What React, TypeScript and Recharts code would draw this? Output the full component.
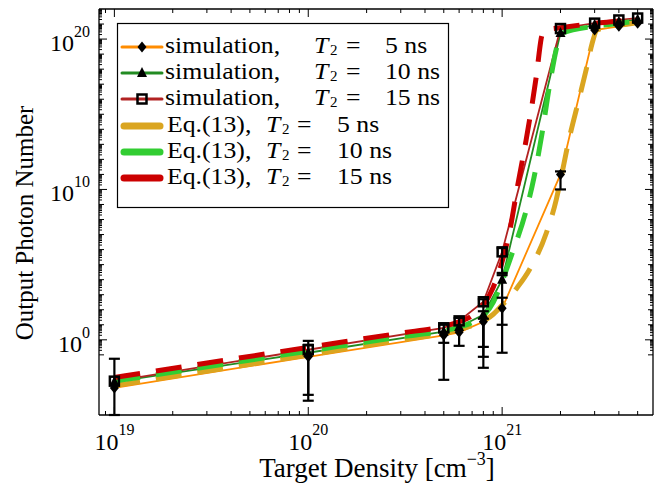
import React from 'react';
import { LineChart, Line, XAxis, YAxis, ErrorBar } from 'recharts';

const FONT = '"Liberation Serif", "DejaVu Serif", serif';

// ---- simulation data (x: target density, value: log10 of photon number) ----
const simDensity = [1e19, 1e20, 5e20, 6e20, 8e20, 1e21, 2e21, 3e21, 4e21, 5e21];
const sim5Exp = [-3.2, -1.13, 0.3, 0.5, 1.2, 2.1, 11.0, 20.6, 20.85, 21.05];
const sim10Exp = [-2.8, -0.86, 0.55, 0.85, 1.66, 4.0, 20.4, 20.95, 21.15, 21.3];
const sim15Exp = [-2.75, -0.66, 0.8, 1.26, 2.53, 5.85, 20.7, 21.06, 21.27, 21.4];
// error bar bounds as log10 [low, high]
const sim5ErrExp: (number[] | null)[] = [null, null, [-2.66, 0.5], null, [-1.86, 1.4], [-0.86, 2.8], [10.0, 11.2], null, null, null];
const sim10ErrExp: (number[] | null)[] = [null, [-3.66, -0.33], null, null, [-1.13, 1.9], [1.0, 4.3], null, null, null, null];
const sim15ErrExp: (number[] | null)[] = [[-5, -1.26], [-4.05, -0.07], [-0.2, 1.0], [-0.4, 1.45], [-0.47, 2.7], [4.45, 6.1], null, null, null, null];

// ---- Eq.(13) curves ----
const eq5Density = [1e19, 1e20, 3e20, 5e20, 6e20, 7e20, 8e20, 9e20, 1e21, 1.2e21, 1.38e21, 1.69e21, 1.9e21, 1.97e21, 2.21e21, 2.49e21, 2.74e21, 2.91e21, 3.09e21, 4e21, 5e21];
const eq5Exp = [-3.05, -1.0, 0.0, 0.45, 0.7, 0.95, 1.25, 1.7, 2.3, 3.5, 4.65, 7.1, 9.3, 10.2, 13.3, 16.0, 18.2, 19.7, 20.6, 20.9, 21.1];
const eq10Density = [1e19, 1e20, 3e20, 5e20, 6e20, 7e20, 8e20, 9e20, 1e21, 1.13e21, 1.33e21, 1.46e21, 1.61e21, 1.75e21, 1.9e21, 1.97e21, 2.05e21, 3e21, 4e21, 5e21];
const eq10Exp = [-2.75, -0.75, 0.2, 0.6, 0.85, 1.15, 1.6, 2.5, 3.9, 5.8, 8.6, 10.8, 13.8, 16.8, 19.3, 20.1, 20.4, 20.85, 21.05, 21.2];
const eq15Density = [1e19, 1e20, 3e20, 5e20, 6e20, 7e20, 8e20, 9e20, 1e21, 1.1e21, 1.2e21, 1.33e21, 1.5e21, 1.6e21, 1.66e21, 2e21, 3e21, 4e21, 5e21];
const eq15Exp = [-2.5, -0.5, 0.45, 0.9, 1.2, 1.6, 2.3, 3.5, 5.2, 7.4, 10.2, 13.3, 17.5, 20.2, 20.6, 20.75, 21.05, 21.2, 21.35];

// ---- axes ----
const X_DOMAIN = [8.33e18, 6e21];
const Y_DOMAIN = [1e-5, 1e22];
const xLabelExps = [19, 20, 21];
const yLabelExps = [0, 10, 20];
const xTicks: number[] = [9e18];
for (const n of [19, 20]) for (let m = 1; m <= 9; m++) xTicks.push(Number(`${m}e${n}`));
for (let m = 1; m <= 5; m++) xTicks.push(Number(`${m}e21`));
const yTicks: number[] = [];
for (let n = -1; n <= 21; n++) for (let m = 1; m <= 9; m++) yTicks.push(Number(`${m}e${n}`));

// ---- legend ----
const legendNames = ['simulation,', 'simulation,', 'simulation,', 'Eq.(13),', 'Eq.(13),', 'Eq.(13),'];
const legendValues = ['5 ns', '10 ns', '15 ns', '5 ns', '10 ns', '15 ns'];
const simColors = ['#FF8C00', '#228B22', '#B22222'];
const eqColors = ['#DAA520', '#32CD32', '#CC0000'];

const toSim = (exps: number[], errs: (number[] | null)[]) =>
  simDensity.map((x, i) => {
    const y = Math.pow(10, exps[i]);
    const e = errs[i];
    return { x, y, err: e ? [y - Math.pow(10, e[0]), Math.pow(10, e[1]) - y] : undefined };
  });
const toEq = (xs: number[], exps: number[]) => xs.map((x, i) => ({ x, y: Math.pow(10, exps[i]) }));

const sim5 = toSim(sim5Exp, sim5ErrExp);
const sim10 = toSim(sim10Exp, sim10ErrExp);
const sim15 = toSim(sim15Exp, sim15ErrExp);
const eq5 = toEq(eq5Density, eq5Exp);
const eq10 = toEq(eq10Density, eq10Exp);
const eq15 = toEq(eq15Density, eq15Exp);

const isPow10 = (v: number) => {
  const l = Math.log10(v);
  return Math.abs(l - Math.round(l)) < 1e-9;
};

const xTick = (side: 'bottom' | 'top') => (props: any) => {
  const { x, y, payload } = props;
  const v = payload.value;
  const exp = Math.round(Math.log10(v));
  const major = isPow10(v);
  const len = major ? 8 : 4;
  const dir = side === 'bottom' ? -1 : 1;
  const label = side === 'bottom' && major && xLabelExps.includes(exp);
  return (
    <g>
      <line x1={x} y1={y} x2={x} y2={y + dir * len} stroke="#000" strokeWidth={1} />
      {label && (
        <text x={x} y={y + 35} textAnchor="middle" fontFamily={FONT} fontSize={24} fill="#000">
          <tspan>10</tspan>
          <tspan dy={-15} fontSize={16}>{exp}</tspan>
        </text>
      )}
    </g>
  );
};

const yTick = (side: 'left' | 'right') => (props: any) => {
  const { x, y, payload } = props;
  const v = payload.value;
  const exp = Math.round(Math.log10(v));
  const decade = isPow10(v);
  const labelled = decade && yLabelExps.includes(exp);
  const len = labelled ? 8 : decade ? 5 : 3;
  const dir = side === 'left' ? 1 : -1;
  return (
    <g>
      <line x1={x} y1={y} x2={x + dir * len} y2={y} stroke="#000" strokeWidth={1} />
      {side === 'left' && labelled && (
        <text x={x - 9} y={y + 12} textAnchor="end" fontFamily={FONT} fontSize={24} fill="#000">
          <tspan>10</tspan>
          <tspan dy={-14} fontSize={16}>{exp}</tspan>
        </text>
      )}
    </g>
  );
};

const diamond = (p: any) =>
  p.cx == null ? <g key={p.index} /> : (
    <polygon key={p.index} points={`${p.cx},${p.cy - 5.5} ${p.cx + 4.5},${p.cy} ${p.cx},${p.cy + 5.5} ${p.cx - 4.5},${p.cy}`} fill="#000" />
  );
const triangle = (p: any) =>
  p.cx == null ? <g key={p.index} /> : (
    <polygon key={p.index} points={`${p.cx},${p.cy - 6} ${p.cx + 5},${p.cy + 4} ${p.cx - 5},${p.cy + 4}`} fill="#000" />
  );
const square = (p: any) =>
  p.cx == null ? <g key={p.index} /> : (
    <rect key={p.index} x={p.cx - 4.5} y={p.cy - 4.5} width={9} height={9} fill="none" stroke="#000" strokeWidth={2.5} />
  );
const markers = [diamond, triangle, square];
const sims = [sim5, sim10, sim15];
const eqs = [eq5, eq10, eq15];

const rowCenters = [47, 73, 99, 126, 152, 178];
const SX = 1.12;

export default function App() {
  const axisCommon = { allowDataOverflow: true, tickLine: false, tickSize: 0, tickMargin: 0, interval: 0 as const, axisLine: { stroke: '#000', strokeWidth: 1.3 } };
  return (
    <div style={{ position: 'absolute', left: 0, top: 0, width: 660, height: 487, background: '#fff' }}>
      <LineChart width={660} height={487} margin={{ top: 8, right: 6, bottom: 71, left: 98 }}>
        <XAxis xAxisId="b" orientation="bottom" dataKey="x" type="number" scale="log" domain={X_DOMAIN} ticks={xTicks} tick={xTick('bottom')} height={1} {...axisCommon} />
        <XAxis xAxisId="t" orientation="top" dataKey="x" type="number" scale="log" domain={X_DOMAIN} ticks={xTicks} tick={xTick('top')} height={1} {...axisCommon} />
        <YAxis yAxisId="l" orientation="left" type="number" scale="log" domain={Y_DOMAIN} ticks={yTicks} tick={yTick('left')} width={1} {...axisCommon} />
        <YAxis yAxisId="r" orientation="right" type="number" scale="log" domain={Y_DOMAIN} ticks={yTicks} tick={yTick('right')} width={1} {...axisCommon} />
        {sims.map((d, i) => (
          <Line key={`sl${i}`} xAxisId="b" yAxisId="l" data={d} dataKey="y" type="linear" stroke={simColors[i]} strokeWidth={1.8} dot={false} isAnimationActive={false} />
        ))}
        {eqs.map((d, i) => (
          <Line key={`eq${i}`} xAxisId="b" yAxisId="l" data={d} dataKey="y" type="monotone" stroke={eqColors[i]} strokeWidth={5} strokeDasharray="26 16" dot={false} isAnimationActive={false} />
        ))}
        {sims.map((d, i) => (
          <Line key={`sm${i}`} xAxisId="b" yAxisId="l" data={d} dataKey="y" type="linear" stroke="none" dot={markers[i]} activeDot={false} isAnimationActive={false}>
            <ErrorBar dataKey="err" direction="y" width={5.5} stroke="#000" strokeWidth={2.2} isAnimationActive={false} />
          </Line>
        ))}
      </LineChart>
      <svg width={660} height={487} style={{ position: 'absolute', left: 0, top: 0, pointerEvents: 'none' }}>
        <rect x={117.5} y={23.5} width={331} height={184} fill="#fff" stroke="#000" strokeWidth={1.2} />
        {rowCenters.map((cy, i) => {
          const isSim = i < 3;
          const k = i % 3;
          const base = cy + 6;
          const x0 = isSim ? 165 : 167;
          const tx = isSim ? 314 : 266;
          const ex = isSim ? 346 : 297;
          const vx = isSim ? 385 : 337;
          return (
            <g key={i}>
              {isSim ? (
                <g>
                  <line x1={122} y1={cy} x2={162} y2={cy} stroke={simColors[k]} strokeWidth={3} strokeLinecap="round" />
                  {markers[k]({ cx: 142, cy, index: i })}
                </g>
              ) : (
                <line x1={124} y1={cy} x2={160} y2={cy} stroke={eqColors[k]} strokeWidth={7} strokeLinecap="round" />
              )}
              <text transform={`translate(${x0} ${base}) scale(${SX} 1)`} fontFamily={FONT} fontSize={23} fill="#000">
                <tspan x={0}>{legendNames[i]}</tspan>
                <tspan x={(tx - x0) / SX} fontStyle="italic">T</tspan>
                <tspan x={(ex - x0) / SX}>=</tspan>
                <tspan x={(vx - x0) / SX}>{legendValues[i]}</tspan>
              </text>
              <text x={isSim ? 330 : 282} y={base + 2} fontFamily={FONT} fontSize={15} fill="#000">2</text>
            </g>
          );
        })}
        <text transform="translate(33,223) rotate(-90)" textAnchor="middle" fontFamily={FONT} fontSize={25} fill="#000">Output Photon Number</text>
        <text x={377} y={477} textAnchor="middle" fontFamily={FONT} fontSize={27} fill="#000">
          <tspan>Target Density [cm</tspan>
          <tspan dy={-12} fontSize={18}>−3</tspan>
          <tspan dy={12}>]</tspan>
        </text>
      </svg>
    </div>
  );
}
